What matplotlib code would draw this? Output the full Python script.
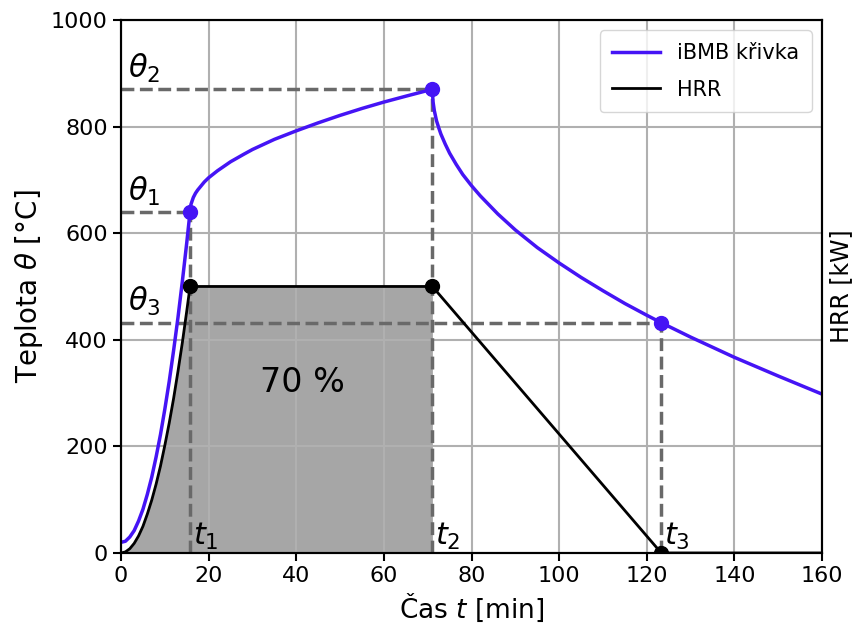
import matplotlib
matplotlib.use('Agg')
import matplotlib.pyplot as plt

# iBMB curve (t in min, theta in degC)
t_rise = [0, 1, 2, 3, 4, 5, 6, 7, 8, 9, 10, 11, 12, 13, 14, 15, 15.75]
theta_rise = [20, 22, 30, 42, 60, 82, 110, 142, 180, 222, 270, 322, 380, 442, 510, 582, 640]
t_full = [15.75, 15.85, 16, 16.25, 16.5, 17, 17.5, 18, 19, 20, 22, 25, 28, 30, 35, 40, 45, 50, 55, 60, 65, 71.06]
theta_full = [640, 650, 655, 661, 667, 675, 681, 686, 696, 704, 717, 734, 748, 757, 776, 792, 807, 821, 834, 846, 857, 870]
t_decay = [71.06, 71.2, 71.5, 72, 72.5, 73, 74, 75, 76.5, 78, 80, 82, 86, 90, 95, 100, 105, 110, 115, 120, 123.3,
           130, 140, 150, 160]
theta_decay = [870, 847, 830, 811, 798, 786, 767, 750, 729, 710, 689, 670, 636, 606, 573, 544, 517, 492, 468, 446, 432,
               405, 367, 332, 298]

# HRR curve
t_hrr = [0, 1, 2, 3, 4, 5, 6, 7, 8, 9, 10, 11, 12, 13, 14, 15, 15.75, 71.06, 123.3, 160]
hrr = [0, 2, 8, 18, 32, 50, 73, 99, 129, 163, 202, 244, 290, 341, 395, 454, 500, 500, 0, 0]

# characteristic points
t_pts = [15.75, 71.06, 123.3]
theta_pts = [640, 870, 432]
hrr_pts = [500, 500, 0]
theta_names = [r'$\theta_1$', r'$\theta_2$', r'$\theta_3$']
t_names = [r'$t_1$', r'$t_2$', r'$t_3$']

t_ibmb = t_rise + t_full[1:] + t_decay[1:]
theta_ibmb = theta_rise + theta_full[1:] + theta_decay[1:]

fig = plt.figure(figsize=(8.59, 6.34), dpi=100)
ax = fig.add_axes([0.1409, 0.1278, 0.8161, 0.8407])

# shaded area under HRR up to t2
n2 = t_hrr.index(71.06) + 1
ax.fill_between(t_hrr[:n2], 0, hrr[:n2], color='grey', alpha=0.7, linewidth=0)

for t, th in zip(t_pts, theta_pts):
    ax.plot([0, t], [th, th], '--', color='dimgray', lw=2.5)
    ax.plot([t, t], [0, th], '--', color='dimgray', lw=2.5)

ax.plot(t_ibmb, theta_ibmb, color='#4514f5', lw=2.5, label='iBMB křivka')
ax.plot(t_hrr, hrr, color='black', lw=2, label='HRR')
ax.plot(t_pts, theta_pts, 'o', color='#4514f5', ms=10)
ax.plot(t_pts, hrr_pts, 'o', color='black', ms=10)

for th, name in zip(theta_pts, theta_names):
    ax.text(1.5, th + 8, name, fontsize=22, va='bottom', ha='left')
for t, name in zip(t_pts, t_names):
    ax.text(t + 0.6, 1, name, fontsize=22, va='bottom', ha='left')
ax.text(41.5, 320, '70 %', fontsize=24, ha='center', va='center')

ax.set_xlim(0, 160)
ax.set_ylim(0, 1000)
ax.set_xticks(range(0, 161, 20))
ax.set_yticks(range(0, 1001, 200))
ax.grid(True, color='#b0b0b0', lw=1.5)
ax.tick_params(labelsize=16, width=1.5, length=6)
for s in ax.spines.values():
    s.set_linewidth(1.5)
ax.set_xlabel(r'Čas $t$ [min]', fontsize=19)
ax.set_ylabel(r'Teplota $\theta$ [°C]', fontsize=20)
ax.legend(loc='upper right', fontsize=15, handlelength=2.3, labelspacing=0.8, borderpad=0.6)

ax2 = ax.twinx()
ax2.set_yticks([])
ax2.set_ylabel('HRR [kW]', fontsize=17, labelpad=5)
for s in ax2.spines.values():
    s.set_linewidth(1.5)

fig.savefig('out.png', dpi=100)
